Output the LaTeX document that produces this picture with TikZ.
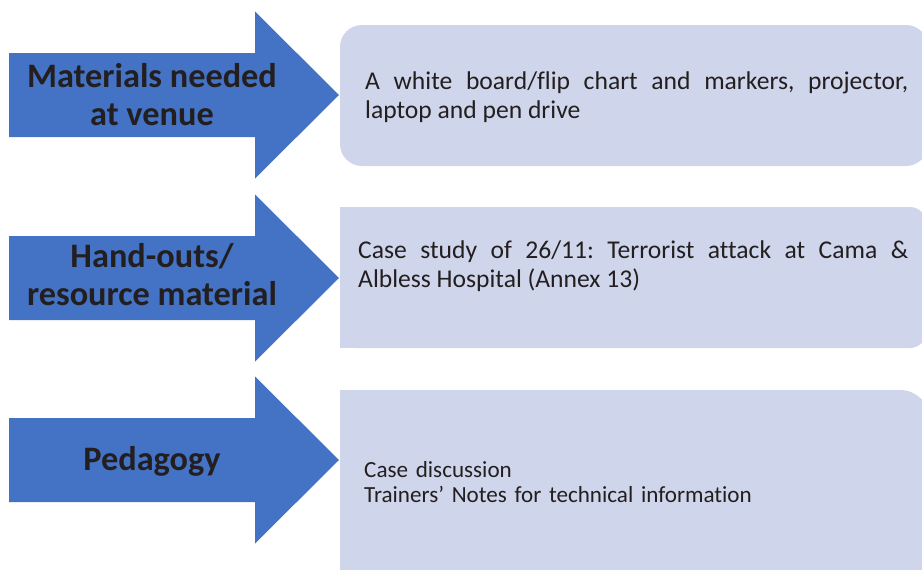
\documentclass[tikz,border=0pt]{standalone}
\usepackage{fontspec}
\setmainfont{Carlito}[Ligatures=NoCommon]
\definecolor{arrowblue}{HTML}{4472C4}
\definecolor{boxfill}{HTML}{CFD5EA}
\definecolor{inkgrey}{HTML}{231F20}
\frenchspacing

\begin{document}
\begin{tikzpicture}
  [x=1pt,y=-1pt,every node/.style={text=inkgrey,inner sep=0pt},
   label/.style={font=\bfseries\fontsize{34.3}{38}\selectfont,align=center},
   info/.style={font=\fontsize{25.6}{29}\selectfont,anchor=base west,align=justify}]
  \useasboundingbox (0,0) rectangle (922,570);
  % blue arrows
  \foreach \y in {95,278,460}
    \fill[arrowblue] (9,\y-42) -- (255,\y-42) -- (255,\y-83.5) -- (339,\y)
      -- (255,\y+83.5) -- (255,\y+42) -- (9,\y+42) -- cycle;
  % boxes
  \fill[boxfill,rounded corners=22] (340,25) rectangle (928,166);
  \fill[boxfill,rounded corners=16] (340,207) rectangle (926,348);
  \fill[boxfill] (340,207) rectangle (400,348);
  \fill[boxfill,rounded corners=30] (340,390) rectangle (930,620);
  \fill[boxfill] (340,390) rectangle (400,570);

  \node[label] (matl) at (152,94.5) {Materials needed\\at venue};
  \node[label] (hand) at (152,274.5) {Hand-outs/\\resource material};
  \node[label,anchor=base] (peda) at (152,470) {Pedagogy};

  \node[info,text width=543pt] (matlinfo) at (365,89)
    {A white board/flip chart and markers, projector,\linebreak laptop and pen drive};
  \node[info,text width=550pt] (handinfo) at (358,258)
    {Case study of 26/11: Terrorist attack at Cama \&\linebreak Albless Hospital (Annex 13)};
  \node[info,align=left,text width=500pt,font=\fontsize{23.1}{25}\selectfont] (pedainfo) at (364,477)
    {Case discussion\\Trainers’ Notes for technical information};
\end{tikzpicture}
\end{document}
